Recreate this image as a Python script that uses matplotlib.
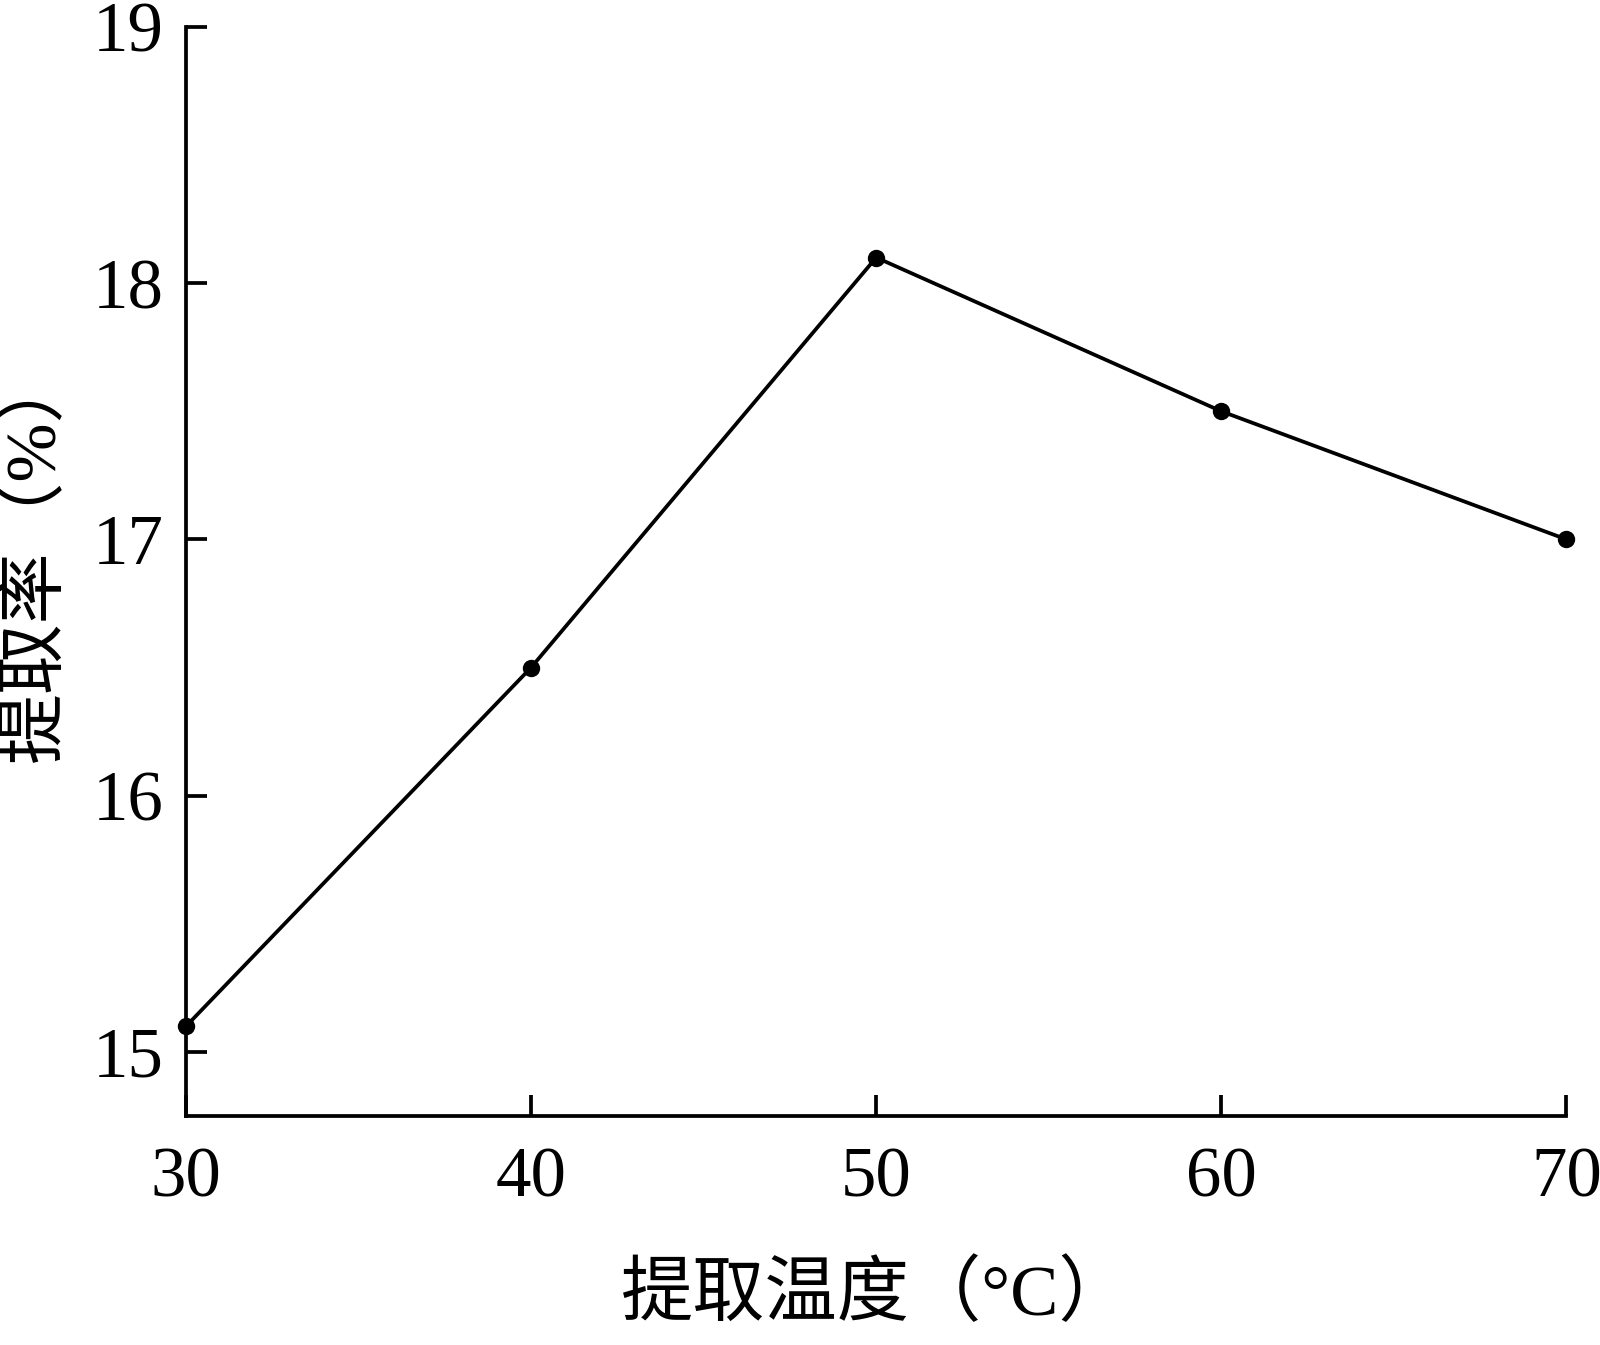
import matplotlib
matplotlib.use("Agg")
import matplotlib.pyplot as plt

temps = [30, 40, 50, 60, 70]
yields = [15.1, 16.5, 18.1, 17.5, 17.0]
xticks = [30, 40, 50, 60, 70]
yticks = [15, 16, 17, 18, 19]
xlabel = "提取温度（°C）"
ylabel = "提取率（%）"

plt.rcParams['font.family'] = ['Liberation Serif', 'Noto Sans CJK SC', 'DejaVu Sans']

fig = plt.figure(figsize=(16, 13.45), dpi=100)
ax = fig.add_axes([0.11625, 0.1703, 0.979 - 0.11625, 0.98 - 0.1703])

ax.plot(temps, yields, color='black', linewidth=2.7, marker='o', markersize=11.5,
        clip_on=False, zorder=3)

ax.set_xlim(30, 70)
ax.set_ylim(14.75, 19)
ax.set_xticks(xticks)
ax.set_yticks(yticks)
ax.set_xticklabels([str(t) for t in xticks])
ax.set_yticklabels([str(t) for t in yticks])

for s in ['top', 'right']:
    ax.spines[s].set_visible(False)
for s in ['left', 'bottom']:
    ax.spines[s].set_linewidth(2.7)

ax.tick_params(axis='both', direction='in', length=15, width=2.7, labelsize=51)
ax.tick_params(axis='x', pad=22)
ax.tick_params(axis='y', pad=16)

ax.set_xlabel(xlabel, fontsize=52, labelpad=36)
ax.set_ylabel(ylabel, fontsize=51)
ax.yaxis.set_label_coords(-0.085, 0.515)

fig.savefig("out.png", dpi=100, facecolor='white')
